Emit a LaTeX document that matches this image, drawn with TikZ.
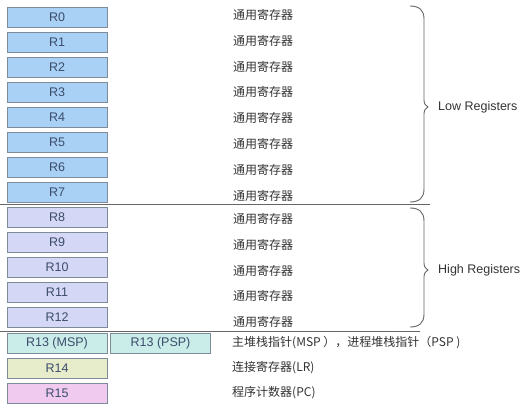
\documentclass[tikz,border=0pt]{standalone}
\usepackage{fontspec}
\setmainfont{Liberation Sans}
\newfontfamily\cjk{Noto Sans CJK SC}
\definecolor{lowfill}{HTML}{A9D1F5}
\definecolor{highfill}{HTML}{D4D7F6}
\definecolor{spfill}{HTML}{CBEDEA}
\definecolor{lrfill}{HTML}{E7ECCB}
\definecolor{pcfill}{HTML}{F0CBEF}
\definecolor{regline}{HTML}{7E8B98}
\definecolor{regtext}{HTML}{3B4C6A}
\definecolor{desctext}{HTML}{333333}
\tikzset{reg/.style={draw=regline, line width=0.9pt, minimum width=100pt, minimum height=20pt, inner sep=0pt, text=regtext, font=\fontsize{12.5}{14}\selectfont},
desc/.style={anchor=west, inner sep=0pt, text=desctext, font=\cjk\fontsize{12}{14}\selectfont},
grp/.style={anchor=west, inner sep=0pt, text=desctext, font=\fontsize{12.5}{14}\selectfont},
sepline/.style={draw=black!60, line width=0.8pt},
regbrace/.style={draw=black!60, line width=0.9pt}}
% curly brace: top y, tip y, bottom y
\newcommand{\regbrace}[3]{%
\draw[regbrace] (410,#1) .. controls (419,#1) and (424,{#1+4}) .. (424,{#1+13})
  -- (424,{#2-7}) .. controls (424,{#2-3}) and (426,{#2-1}) .. (428,#2)
  .. controls (426,{#2+1}) and (424,{#2+3}) .. (424,{#2+7})
  -- (424,{#3-13}) .. controls (424,{#3-4}) and (419,#3) .. (410,#3);}

\begin{document}
\begin{tikzpicture}[x=1pt,y=-1pt]
\useasboundingbox (0,0) rectangle (527,411);

% low registers
\foreach \i in {0,...,7}{
  \node[reg, fill=lowfill] (r\i) at (57,{17.5+25*\i}) {R\i};
  \node[desc] (t\i) at (233,{15+25.8*\i}) {通用寄存器};
}
% high registers
\foreach \i in {8,...,12}{
  \node[reg, fill=highfill] (r\i) at (57,{17.5+25*\i}) {R\i};
  \node[desc] (t\i) at (233,{219+25.8*(\i-8)}) {通用寄存器};
}

% special registers
\node[reg, fill=spfill] (msp) at (57,343) {R13 (MSP)};
\node[reg, fill=spfill] (psp) at (160.5,343) {R13 (PSP)};
\node[reg, fill=lrfill] (r14) at (57,368) {R14};
\node[reg, fill=pcfill] (r15) at (57,393) {R15};
\node[desc] (tsp) at (232,343) {主堆栈指针(MSP ），进程堆栈指针（PSP )};
\node[desc] (tlr) at (232,368) {连接寄存器(LR)};
\node[desc] (tpc) at (232,393) {程序计数器(PC)};

%separators
\draw[sepline] (0,204.5) -- (430,204.5);
\draw[sepline] (0,331) -- (420,331);

%groups
\regbrace{6}{107}{202}
\regbrace{208}{270}{327}
\node[grp] (low) at (438,107) {Low Registers};
\node[grp] (high) at (438,270) {High Registers};

\end{tikzpicture}
\end{document}
